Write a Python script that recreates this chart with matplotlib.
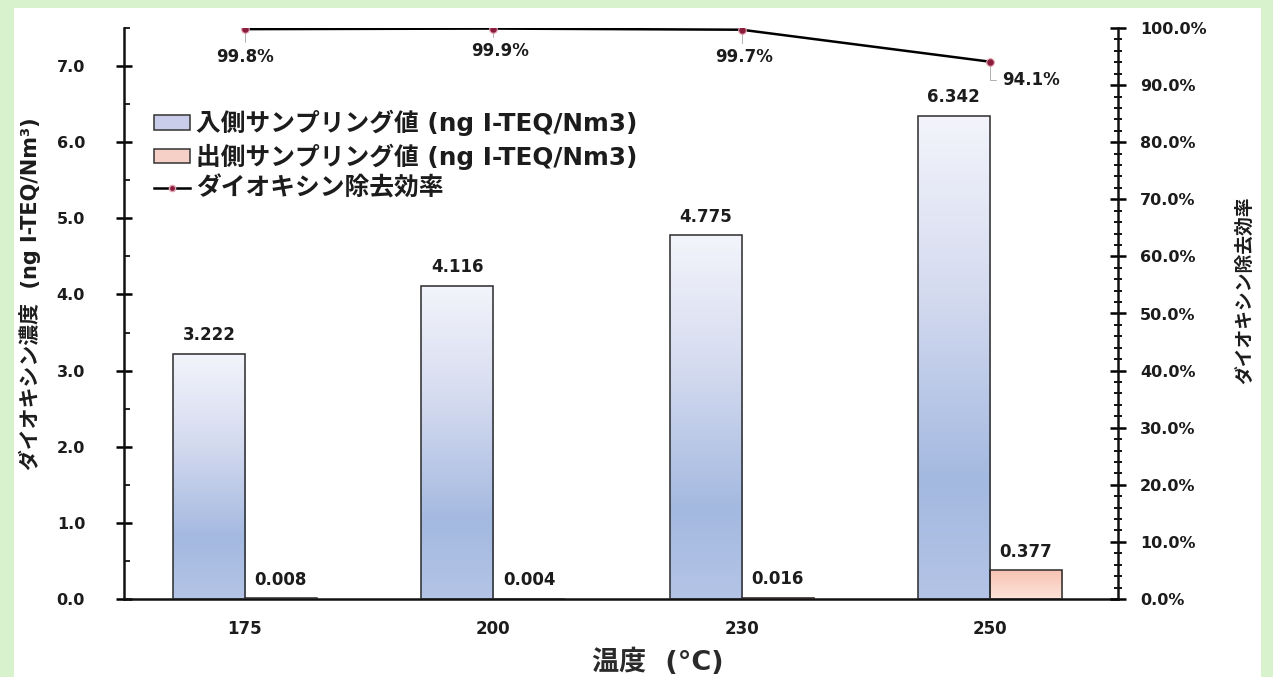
import numpy as np
import matplotlib
matplotlib.use("Agg")
import matplotlib.pyplot as plt
from matplotlib.patches import Rectangle, Patch
from matplotlib.lines import Line2D
from matplotlib.colors import LinearSegmentedColormap
from matplotlib.ticker import MultipleLocator, FuncFormatter
from matplotlib.font_manager import FontProperties

# Data
temps = ["175", "200", "230", "250"]
inlet = [3.222, 4.116, 4.775, 6.342]      # ng I-TEQ/Nm3
outlet = [0.008, 0.004, 0.016, 0.377]     # ng I-TEQ/Nm3
removal = [99.8, 99.9, 99.7, 94.1]        # %

# Latin glyphs from DejaVu, Japanese glyphs fall through to Noto CJK
MIX = ["DejaVu Sans", "Noto Sans CJK JP"]
TXT = "#1c1c1c"

W, H = 1273, 677
fig = plt.figure(figsize=(W / 100, H / 100), dpi=100)
fig.patch.set_facecolor("#d7f2cd")
fig.add_artist(Rectangle((14 / W, 0), (1261 - 14) / W, (H - 8) / H,
                         transform=fig.transFigure, facecolor="white",
                         edgecolor="none", zorder=0))

ax = fig.add_axes([124 / W, 1 - 599 / H, (1118 - 124) / W, (599 - 28) / H])
ax.set_facecolor("white")
ax2 = ax.twinx()
ax2.patch.set_visible(False)

x = np.arange(len(temps))
w = 0.29

blue = LinearSegmentedColormap.from_list(
    "inlet", [(0, "#f3f4fb"), (0.35, "#d6dcf0"), (0.75, "#a4b9e0"), (1, "#b3c4e6")])
pink = LinearSegmentedColormap.from_list(
    "outlet", [(0, "#f7c2b2"), (1, "#fce4da")])
grad = np.linspace(0, 1, 256).reshape(-1, 1)

b1 = ax.bar(x - w / 2, inlet, w, facecolor="none", edgecolor="#2b2b2b", lw=1.1, zorder=3)
b2 = ax.bar(x + w / 2, outlet, w, facecolor="none", edgecolor="#2b2b2b", lw=1.1, zorder=3)
for bars, cmap in ((b1, blue), (b2, pink)):
    for r in bars:
        x0, h = r.get_x(), r.get_height()
        ax.imshow(grad, extent=[x0, x0 + r.get_width(), 0, h], aspect="auto",
                  cmap=cmap, origin="upper", zorder=2, interpolation="bilinear")

for bars, vals in ((b1, inlet), (b2, outlet)):
    for r, v in zip(bars, vals):
        ax.annotate(f"{v:.3f}", (r.get_x() + r.get_width() / 2, v),
                    xytext=(0, 7), textcoords="offset points", ha="center",
                    va="bottom", fontsize=12, fontweight="bold", color=TXT)

ax.set_xlim(-0.487, 3.516)
ax.set_ylim(0, 7.5)
ax2.set_ylim(0, 1.0)

# Removal efficiency line
rem = np.array(removal) / 100
ax2.plot(x, rem, color="black", lw=1.8, zorder=5)
ax2.plot(x, rem, ls="none", marker="o", ms=5.5, mfc="#8a1c3c", mec="#e2a3b3",
         mew=0.8, zorder=6)

offsets = [(0, -20), (5, -16.5), (1.5, -20), (29.5, -13)]
for xi, r, v, off in zip(x, rem, removal, offsets):
    ax2.annotate(f"{v:.1f}%", (xi, r), xytext=off, textcoords="offset points",
                 ha="center", va="center", fontsize=12, fontweight="bold", color=TXT,
                 arrowprops=dict(arrowstyle="-", color="#b0b0b0", lw=0.7,
                                 shrinkA=2, shrinkB=2,
                                 connectionstyle="angle,angleA=0,angleB=90"))

# Axes styling
for s in ("top", "right"):
    ax.spines[s].set_visible(False)
for s in ("top", "left", "bottom"):
    ax2.spines[s].set_visible(False)
for sp in (ax.spines["left"], ax.spines["bottom"], ax2.spines["right"]):
    sp.set_linewidth(1.8)
    sp.set_color("#111111")

ax.set_xticks(x, temps)
ax.tick_params(axis="x", length=0, pad=15, labelsize=12, labelcolor=TXT)
for t in ax.get_xticklabels():
    t.set_fontweight("bold")

ax.yaxis.set_major_locator(MultipleLocator(1))
ax.yaxis.set_minor_locator(MultipleLocator(0.5))
ax.yaxis.set_major_formatter(FuncFormatter(lambda v, p: f"{v:.1f}"))
ax.tick_params(axis="y", which="major", direction="inout", length=12, width=1.8,
               pad=22, labelsize=11.5, labelcolor=TXT)
ax.tick_params(axis="y", which="minor", direction="in", length=4, width=1.2)

ax2.yaxis.set_major_locator(MultipleLocator(0.1))
ax2.yaxis.set_minor_locator(MultipleLocator(0.02))
ax2.yaxis.set_major_formatter(FuncFormatter(lambda v, p: f"{v * 100:.1f}%"))
ax2.tick_params(axis="y", which="major", direction="inout", length=12, width=1.8,
                pad=10, labelsize=11.5, labelcolor=TXT)
ax2.tick_params(axis="y", which="minor", direction="inout", length=6, width=1.3)
for t in ax.get_yticklabels() + ax2.get_yticklabels():
    t.set_fontweight("bold")

# Axis titles
fig.text(30 / W, 1 - 294 / H, "ダイオキシン濃度  (ng I-TEQ/Nm³)", rotation=90,
         ha="center", va="center", fontsize=15, fontweight="bold",
         family=MIX, color=TXT)
fig.text(1245 / W, 1 - 290 / H, "ダイオキシン除去効率", rotation=90,
         ha="center", va="center", fontsize=13.5, fontweight="bold",
         family=MIX, color=TXT)
fig.text(658 / W, 1 - 662 / H, "温度  (°C)", ha="center", va="center",
         fontsize=19.5, fontweight="bold", family=MIX, color="#2a2a2a")

# Legend
handles = [
    Patch(facecolor="#c9cdea", edgecolor="#333333", lw=1.1),
    Patch(facecolor="#f6d0c7", edgecolor="#333333", lw=1.1),
    Line2D([], [], color="black", lw=1.8, marker="o", ms=4.5,
           mfc="#8a1c3c", mec="#e2a3b3"),
]
labels = ["入側サンプリング値 (ng I-TEQ/Nm3)",
          "出側サンプリング値 (ng I-TEQ/Nm3)",
          "ダイオキシン除去効率"]
leg = ax2.legend(handles, labels, loc="upper left",
                 bbox_to_anchor=(154 / W, 1 - 110 / H),
                 bbox_transform=fig.transFigure, frameon=False,
                 prop=FontProperties(family=MIX, weight="bold", size=17.8),
                 handlelength=1.45, handleheight=0.5, handletextpad=0.25,
                 labelspacing=0.28, borderpad=0, borderaxespad=0)
for t in leg.get_texts():
    t.set_color(TXT)

fig.savefig("out.png", dpi=100, facecolor=fig.get_facecolor())
